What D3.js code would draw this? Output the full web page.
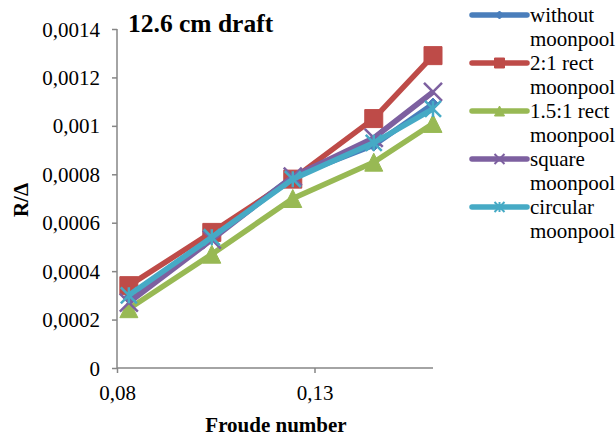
<!DOCTYPE html>
<html>
<head>
<meta charset="utf-8">
<script src="https://cdn.jsdelivr.net/npm/d3@7"></script>
<style>
  body { margin: 0; background: #fff; }
</style>
</head>
<body>
<div id="chart"></div>
<script>
// Froude numbers (x) and R/Δ per moonpool configuration
const froude = [0.083, 0.104, 0.1245, 0.145, 0.16];
const withoutMoonpool = [0.00029, 0.00054, 0.00079, 0.00092, 0.00109];
const rect21Moonpool = [0.00034, 0.00056, 0.00078, 0.00103, 0.00129];
const rect151Moonpool = [0.000245, 0.00047, 0.0007, 0.00085, 0.00101];
const squareMoonpool = [0.00027, 0.00053, 0.00079, 0.00095, 0.00114];
const circularMoonpool = [0.0003, 0.00054, 0.00078, 0.00093, 0.00107];
const seriesNames = [
  ['without', 'moonpool'],
  ['2:1 rect', 'moonpool'],
  ['1.5:1 rect', 'moonpool'],
  ['square', 'moonpool'],
  ['circular', 'moonpool'],
];
const yTicks = [0, 0.0002, 0.0004, 0.0006, 0.0008, 0.001, 0.0012, 0.0014];
const yTickLabels = ['0', '0,0002', '0,0004', '0,0006', '0,0008', '0,001', '0,0012', '0,0014'];
const xTicks = [0.08, 0.13];
const xTickLabels = ['0,08', '0,13'];

const width = 616;
const height = 436;
const plot = { left: 117, right: 433, top: 29, bottom: 368 };
const font = 'Liberation Serif';

// marker paths, half-size h
const markers = {
  diamond: (h) => `M0,${-h}L${h},0L0,${h}L${-h},0Z`,
  square: (h) => `M${-h},${-h}H${h}V${h}H${-h}Z`,
  triangle: (h) => `M0,${-h}L${h},${h}L${-h},${h}Z`,
  cross: (h) => `M${-h},${-h}L${h},${h}M${h},${-h}L${-h},${h}`,
  star: (h) => `M${-h},${-h}L${h},${h}M${h},${-h}L${-h},${h}M0,${-h}L0,${h}`,
};

const series = [
  { values: withoutMoonpool, color: '#4A7EBB', marker: 'diamond', size: 6, legSize: 4, filled: true },
  { values: rect21Moonpool, color: '#BE4B48', marker: 'square', size: 9, legSize: 5, filled: true },
  { values: rect151Moonpool, color: '#98B954', marker: 'triangle', size: 9, legSize: 5, filled: true },
  { values: squareMoonpool, color: '#7D60A0', marker: 'cross', size: 9, legSize: 5, filled: false },
  { values: circularMoonpool, color: '#46AAC5', marker: 'star', size: 8, legSize: 5, filled: false },
];

const svg = d3.select('#chart')
  .append('svg')
  .attr('width', width)
  .attr('height', height);

const x = d3.scaleLinear().domain([0.08, 0.16]).range([plot.left, plot.right]);
const y = d3.scaleLinear().domain([0, 0.0014]).range([plot.bottom, plot.top]);

const axisColor = '#868686';

// y axis
const yAxis = svg.append('g')
  .attr('transform', `translate(${plot.left},0)`)
  .call(d3.axisLeft(y).tickValues(yTicks).tickSize(5)
    .tickFormat((d, i) => yTickLabels[i]));
yAxis.select('.domain').attr('stroke', axisColor).attr('stroke-width', 1.5)
  .attr('d', `M0,${plot.top}V${plot.bottom}`);
yAxis.selectAll('.tick line').attr('stroke', axisColor).attr('stroke-width', 1.5);
yAxis.selectAll('.tick text')
  .attr('x', -17)
  .attr('dy', '0.34em')
  .attr('fill', '#000');

// x axis
const xAxis = svg.append('g')
  .attr('transform', `translate(0,${plot.bottom})`)
  .call(d3.axisBottom(x).tickValues(xTicks).tickSize(5)
    .tickFormat((d, i) => xTickLabels[i]));
xAxis.select('.domain').attr('stroke', axisColor).attr('stroke-width', 1.5)
  .attr('d', `M${plot.left},0H${plot.right}`);
xAxis.selectAll('.tick line').attr('stroke', axisColor).attr('stroke-width', 1.5);
xAxis.selectAll('.tick text')
  .attr('y', 17)
  .attr('dy', '0.71em')
  .attr('fill', '#000');

// series
const line = d3.line()
  .x((d, i) => x(froude[i]))
  .y((d) => y(d));

series.forEach((s) => {
  const g = svg.append('g');
  g.append('path')
    .attr('d', line(s.values))
    .attr('fill', 'none')
    .attr('stroke', s.color)
    .attr('stroke-width', 5.5)
    .attr('stroke-linejoin', 'round');
  g.selectAll('path.m')
    .data(s.values)
    .enter()
    .append('path')
    .attr('class', 'm')
    .attr('transform', (d, i) => `translate(${x(froude[i])},${y(d)})`)
    .attr('d', markers[s.marker](s.size))
    .attr('fill', s.filled ? s.color : 'none')
    .attr('stroke', s.color)
    .attr('stroke-width', s.filled ? 1 : 2.5);
});

// title
svg.append('text')
  .attr('x', 128)
  .attr('y', 32)
  .attr('font-weight', 'bold')
  .attr('data-size', 25.5)
  .text('12.6 cm draft');

// axis titles
svg.append('text')
  .attr('transform', 'translate(28,200) rotate(-90)')
  .attr('text-anchor', 'middle')
  .attr('font-weight', 'bold')
  .attr('data-size', 21)
  .text('R/Δ');

svg.append('text')
  .attr('x', 276)
  .attr('y', 432)
  .attr('text-anchor', 'middle')
  .attr('font-weight', 'bold')
  .attr('data-size', 21)
  .text('Froude number');

// legend
const legend = svg.append('g');
series.forEach((s, i) => {
  const ly = 15 + i * 48;
  legend.append('line')
    .attr('x1', 472).attr('x2', 527)
    .attr('y1', ly).attr('y2', ly)
    .attr('stroke', s.color)
    .attr('stroke-width', 5.5)
    .attr('stroke-linecap', 'round');
  legend.append('path')
    .attr('transform', `translate(499.5,${ly})`)
    .attr('d', markers[s.marker](s.legSize))
    .attr('fill', s.filled ? s.color : 'none')
    .attr('stroke', s.color)
    .attr('stroke-width', s.filled ? 1 : 2);
  const t = legend.append('text')
    .attr('x', 530)
    .attr('y', ly + 7);
  t.append('tspan').attr('x', 530).text(seriesNames[i][0]);
  t.append('tspan').attr('x', 530).attr('dy', 24).text(seriesNames[i][1]);
});

// set the font on every text element directly
svg.selectAll('text').each(function () {
  const el = d3.select(this);
  const size = el.attr('data-size') || 21;
  el.attr('font-family', font)
    .attr('font-size', size);
});
</script>
</body>
</html>
